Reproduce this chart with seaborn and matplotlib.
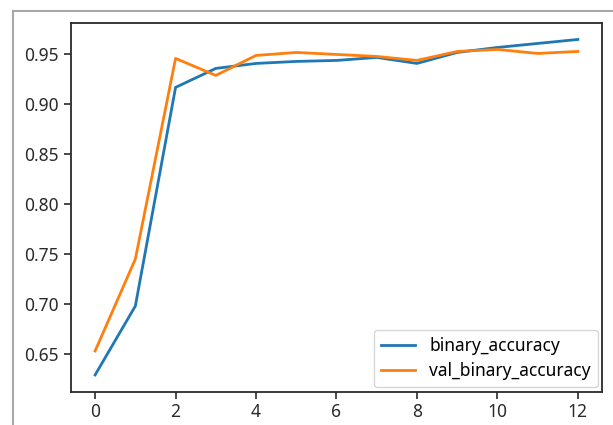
import matplotlib
matplotlib.use("Agg")
import matplotlib.pyplot as plt
import seaborn as sns
import pandas as pd
from matplotlib.lines import Line2D

epochs = list(range(13))
binary_accuracy = [0.629, 0.698, 0.917, 0.936, 0.941, 0.943, 0.944, 0.947, 0.941, 0.952, 0.957, 0.961, 0.965]
val_binary_accuracy = [0.653, 0.745, 0.946, 0.929, 0.949, 0.952, 0.950, 0.948, 0.944, 0.953, 0.955, 0.951, 0.953]
series_names = ["binary_accuracy", "val_binary_accuracy"]

df = pd.DataFrame({"epoch": epochs,
                   "binary_accuracy": binary_accuracy,
                   "val_binary_accuracy": val_binary_accuracy})
long = df.melt(id_vars="epoch", value_vars=series_names, var_name="metric", value_name="value")

plt.rcParams["font.family"] = ["Noto Sans", "DejaVu Sans"]
fig = plt.figure(figsize=(6.13, 4.25), dpi=100)
ax = fig.add_axes([0.1158, 0.0784, 0.8662, 0.8682])

sns.lineplot(data=long, x="epoch", y="value", hue="metric",
             palette=["#1f77b4", "#ff7f0e"], linewidth=2.0, ax=ax)

ax.set_xlabel("")
ax.set_ylabel("")
ax.set_xticks([0, 2, 4, 6, 8, 10, 12])
ax.tick_params(labelsize=12.5, length=5, width=1.2, colors="#2a2a2a")
for s in ax.spines.values():
    s.set_linewidth(1.3)
    s.set_color("#2a2a2a")

handles, labels = ax.get_legend_handles_labels()
leg = ax.legend(handles, labels, loc="lower right", fontsize=12.5, frameon=True,
                borderaxespad=0.25, labelspacing=0.45)

# outer screenshot frame (left and top edges)
fig.add_artist(Line2D([13/613, 13/613], [0, 1 - 11/425], transform=fig.transFigure,
                      color="#a8a8a8", linewidth=1.5))
fig.add_artist(Line2D([13/613, 1], [1 - 11/425, 1 - 11/425], transform=fig.transFigure,
                      color="#a8a8a8", linewidth=1.5))

fig.savefig("out.png", dpi=100)
